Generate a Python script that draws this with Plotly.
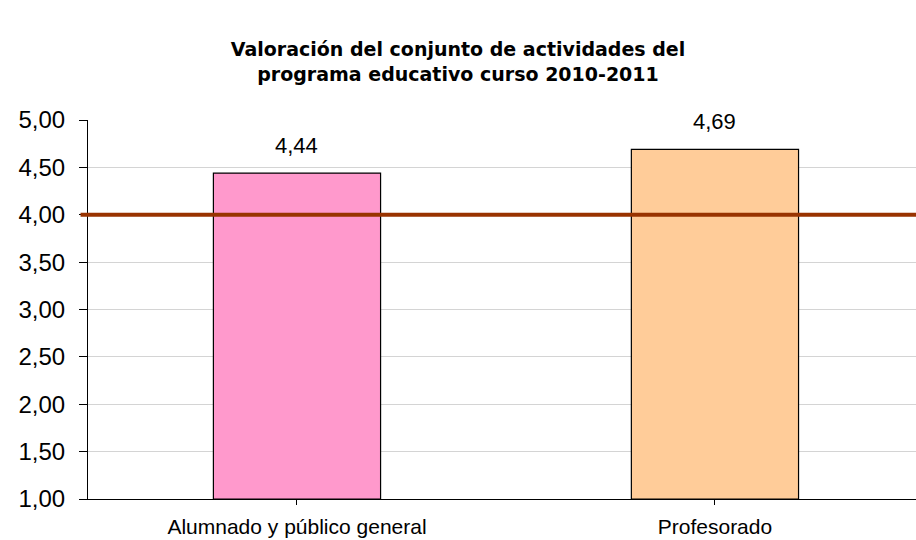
import plotly.graph_objects as go

categories = ["Alumnado y público general", "Profesorado"]
values = [4.44, 4.69]
bar_colors = ["#FF99CC", "#FFCC99"]
reference_level = 4.0
y_ticks = [1.0, 1.5, 2.0, 2.5, 3.0, 3.5, 4.0, 4.5, 5.0]
axis_floor = 1.0

fig = go.Figure()
# bars start at the axis floor (1,00), so each height is value - floor
fig.add_trace(go.Bar(
    x=[0, 1],
    y=[v - axis_floor for v in values],
    base=axis_floor,
    width=0.40,
    marker=dict(color=bar_colors, line=dict(color="black", width=1.2)),
    hoverinfo="skip",
))

# value labels above each bar
for i, v in enumerate(values):
    fig.add_annotation(
        x=i, y=v, xref="x", yref="y",
        text=f"{v:.2f}".replace(".", ","),
        showarrow=False, yanchor="middle", yshift=28,
        font=dict(family="Liberation Sans, Arial", size=22, color="black"),
    )

# reference line at 4,00
fig.add_shape(type="line", xref="paper", yref="y", x0=-0.009, x1=1.0,
              y0=reference_level, y1=reference_level,
              line=dict(color="#993300", width=4), layer="above")

fig.update_layout(
    width=916, height=540,
    margin=dict(l=88, r=0, t=120, b=41),
    paper_bgcolor="white", plot_bgcolor="white",
    separators=",.",
    showlegend=False,
    title=dict(
        text="Valoración del conjunto de actividades del<br>programa educativo curso 2010-2011",
        x=0.5, xanchor="center", y=0.896, yanchor="top",
        font=dict(family="DejaVu Sans", size=19, color="black", weight="bold"),
    ),
    font=dict(family="Liberation Sans, Arial", color="black"),
)
fig.update_yaxes(
    range=[1, 5], tickvals=y_ticks, tickformat=".2f",
    showgrid=True, gridcolor="#d4d4d4", gridwidth=1,
    showline=True, linecolor="black", linewidth=1,
    ticks="outside", ticklen=8, tickcolor="black",
    tickfont=dict(size=24), ticklabelstandoff=9,
    zeroline=False,
)
fig.update_xaxes(
    range=[-0.5, 1.481], tickvals=[0, 1], ticktext=categories,
    tickson="boundaries", ticks="outside", ticklen=5, tickcolor="black",
    showline=True, linecolor="black", linewidth=1,
    showgrid=False, tickfont=dict(size=21), ticklabelstandoff=4,
    zeroline=False,
)

fig.write_html("out.html")
